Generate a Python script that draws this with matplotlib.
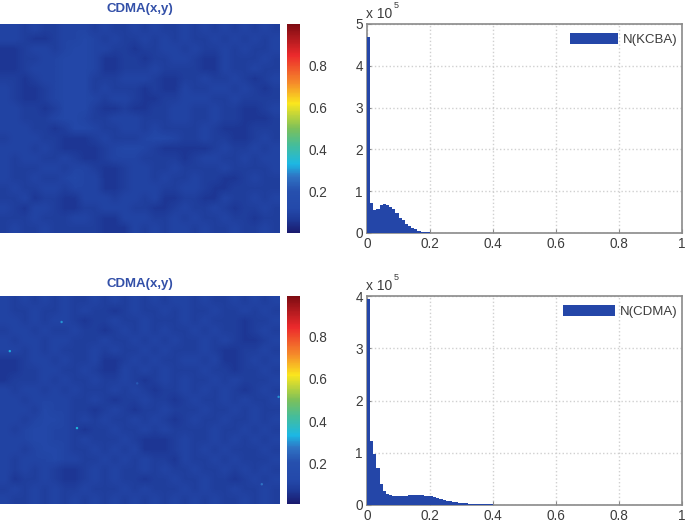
import matplotlib
matplotlib.use('Agg')
import matplotlib.pyplot as plt
from matplotlib.colors import LinearSegmentedColormap
import numpy as np

plt.rcParams['font.family'] = ['Liberation Sans', 'DejaVu Sans']

map_top = [
    "3323223332322323223232323232",
    "3321123343232232323223232323",
    "1123323443322122332322323223",
    "1122334443112212233211322232",
    "1123334443112223222211322322",
    "2212334442223332112232232123",
    "3211234442322212113223323212",
    "3211234443233211223332232222",
    "3322124442112112233223221123",
    "3322234432233322233223221112",
    "3332212443223323222232111222",
    "2333221112322234432232211232",
    "3332321111234432111112322323",
    "3233223211233322221233223233",
    "3222332332112332232222322223",
    "3223223433112332322322112322",
    "2322332333112333223321122222",
    "2231221133323323112211322323",
    "3213321122333221123223212232",
    "2223222332113332232322322122",
    "2322322222111323233232232232",
]
map_bottom = [
    "3232323223232323233232232323",
    "3223223232212322323223223232",
    "3323233212232232223232221223",
    "2332322322123232322323221232",
    "3233233222322323232232321123",
    "3323232223232232322232112232",
    "1123323223112323223323112323",
    "1122332232113232322232212232",
    "1222323223223212323223232223",
    "3233232322232321223232321232",
    "3323333223212232212322323223",
    "3332433221232122322232232322",
    "3323443232322323212322322323",
    "3234433212232232322223223232",
    "3334433232223211123223232323",
    "3323443223232311123232322232",
    "3233343322323232213223232223",
    "3232321123232232322322323232",
    "3122321123232212232232212323",
    "2323232232223232223232232232",
    "3223232323232323232323223232",
]
level_values = [0.05, 0.065, 0.085, 0.105, 0.115]

# bright specks on the lower map (fraction of width, fraction of height, value)
speck_x = [0.22, 0.035, 0.275, 0.935, 0.995, 0.49]
speck_y = [0.125, 0.265, 0.635, 0.905, 0.485, 0.42]
speck_val = [0.3, 0.32, 0.34, 0.27, 0.3, 0.22]

# histogram bars, bin width 0.01, counts x 1e5
kcba_counts = [4.7, 0.72, 0.55, 0.57, 0.66, 0.69, 0.67, 0.62, 0.57, 0.47, 0.36, 0.3,
               0.22, 0.16, 0.12, 0.085, 0.055, 0.035, 0.02, 0.012, 0.008, 0.006, 0.005,
               0.004, 0.003]
cdma_counts = [3.95, 1.23, 0.98, 0.71, 0.4, 0.27, 0.22, 0.19, 0.18, 0.17, 0.17, 0.17,
               0.18, 0.19, 0.2, 0.195, 0.19, 0.185, 0.18, 0.17, 0.165, 0.15, 0.13, 0.11,
               0.095, 0.085, 0.07, 0.06, 0.05, 0.042, 0.035, 0.03, 0.025, 0.02, 0.018,
               0.016, 0.014, 0.012, 0.013, 0.01, 0.008, 0.006, 0.005, 0.004]
bin_width = 0.01

cbar_ticks = [0.2, 0.4, 0.6, 0.8]
x_ticks = [0, 0.2, 0.4, 0.6, 0.8, 1]
x_labels = ['0', '0.2', '0.4', '0.6', '0.8', '1']

W, H = 685, 524
fig = plt.figure(figsize=(W / 100, H / 100), dpi=100)


def box(x0, y0, x1, y1):
    return [x0 / W, 1 - y1 / H, (x1 - x0) / W, (y1 - y0) / H]


cmap = LinearSegmentedColormap.from_list('pic', [
    (0.0, '#1a1a6e'), (0.065, '#1e3a98'), (0.115, '#2449aa'), (0.2, '#2650ae'),
    (0.27, '#2f74c4'), (0.33, '#1cb8e4'), (0.42, '#45bd9a'), (0.5, '#7cc05a'),
    (0.62, '#fae61e'), (0.72, '#f58a2a'), (0.85, '#ec2a2c'), (1.0, '#7e0c12')])

text_col = '#3c3c3c'
edge_col = '#8a8a8a'
blue = '#2446a8'


def draw_map(rows, y0, y1, title_y, specks=False):
    data = np.array([[level_values[int(c)] for c in r] for r in rows])
    ax = fig.add_axes(box(0, y0, 280, y1))
    im = ax.imshow(data, cmap=cmap, vmin=0.005, vmax=0.995, aspect='auto',
                   interpolation='bilinear', extent=[0, 1, 1, 0])
    if specks:
        ax.scatter(speck_x, speck_y, c=speck_val, cmap=cmap, vmin=0.005, vmax=0.995,
                   s=3, linewidths=0, clip_on=True)
    ax.set_xlim(0, 1)
    ax.set_ylim(1, 0)
    ax.set_xticks([])
    ax.set_yticks([])
    for s in ax.spines.values():
        s.set_visible(False)
    fig.text(140 / W, 1 - title_y / H, 'CDMA(x,y)', color='#3350a8', fontsize=9.5,
             fontweight='bold', ha='center', va='center')
    cax = fig.add_axes(box(287, y0, 300, y1))
    cb = fig.colorbar(im, cax=cax, ticks=cbar_ticks)
    cb.ax.tick_params(length=0, labelsize=9.8, labelcolor=text_col, pad=6)
    cb.outline.set_visible(False)


def draw_hist(counts, ymax, yticks, name, y0, y1, handle_len):
    ax = fig.add_axes(box(367, y0, 682, y1))
    left = np.arange(len(counts)) * bin_width
    ax.bar(left, counts, width=bin_width, align='edge', color=blue, linewidth=0,
           zorder=3, label=name)
    ax.set_xlim(0, 1)
    ax.set_ylim(0, ymax)
    ax.set_xticks(x_ticks)
    ax.set_xticklabels(x_labels)
    ax.set_yticks(yticks)
    ax.grid(True, linestyle=':', color='#d0d0d0', linewidth=1.0)
    ax.set_axisbelow(True)
    ax.tick_params(direction='in', length=3, color=edge_col, labelsize=9.8,
                   labelcolor=text_col, pad=3)
    for s in ax.spines.values():
        s.set_color(edge_col)
        s.set_linewidth(1.2)
    fig.text(366 / W, 1 - (y0 - 10) / H, 'x 10', color=text_col, fontsize=10, ha='left', va='center')
    fig.text(394 / W, 1 - (y0 - 19) / H, '5', color=text_col, fontsize=6.5, ha='left', va='center')
    ax.legend(loc='upper right', bbox_to_anchor=(0.993, 0.97), frameon=False, fontsize=9.5,
              handlelength=handle_len, handleheight=0.9, handletextpad=0.35,
              borderpad=0.2, borderaxespad=0, labelcolor=text_col)


draw_map(map_top, 24, 233, 9)
draw_map(map_bottom, 296, 504, 284, specks=True)
draw_hist(kcba_counts, 5, [0, 1, 2, 3, 4, 5], 'N(KCBA)', 24, 233, 3.6)
draw_hist(cdma_counts, 4, [0, 1, 2, 3, 4], 'N(CDMA)', 296, 505, 3.9)

fig.savefig('out.png', dpi=100)
